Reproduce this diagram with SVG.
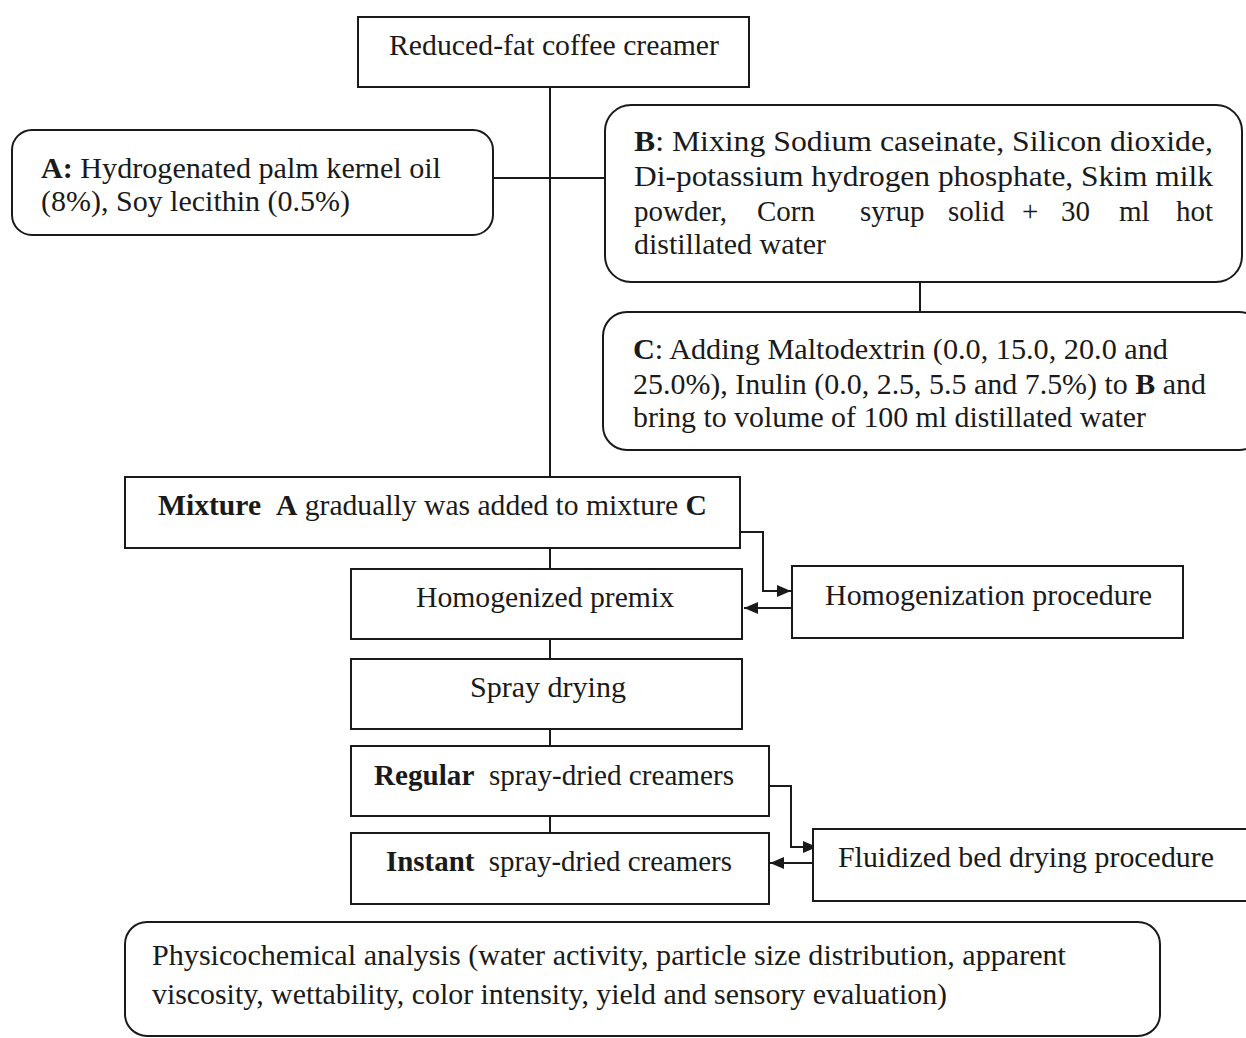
<svg xmlns="http://www.w3.org/2000/svg" width="1246" height="1038" viewBox="0 0 1246 1038">
<style>
.box{fill:#fff;stroke:#1a1a1a;stroke-width:2}
.t{font-family:"Liberation Serif","Times New Roman",serif;font-size:29px;fill:#1a1a1a}
.b{font-weight:bold}
.ln{fill:none;stroke:#1a1a1a;stroke-width:2}
</style>
<defs>
<marker id="ah" viewBox="0 0 14 12" refX="14" refY="6" markerWidth="14" markerHeight="12" markerUnits="userSpaceOnUse" orient="auto">
<path d="M0,0 L14,6 L0,12 Z" fill="#1a1a1a"/>
</marker>
</defs>
<rect width="1246" height="1038" fill="#fff"/>
<g id="connectors">
<line class="ln" x1="550" y1="87" x2="550" y2="477"/>
<line class="ln" x1="493" y1="178" x2="605" y2="178"/>
<line class="ln" x1="920" y1="282" x2="920" y2="312"/>
<line class="ln" x1="550" y1="548" x2="550" y2="569"/>
<line class="ln" x1="550" y1="639" x2="550" y2="659"/>
<line class="ln" x1="550" y1="729" x2="550" y2="746"/>
<line class="ln" x1="550" y1="816" x2="550" y2="833"/>
<polyline class="ln" points="735,532 763,532 763,591 791,591" marker-end="url(#ah)"/>
<line class="ln" x1="792" y1="608" x2="744" y2="608" marker-end="url(#ah)"/>
<polyline class="ln" points="762,786 791,786 791,847 817,847" marker-end="url(#ah)"/>
<line class="ln" x1="813" y1="863" x2="770" y2="863" marker-end="url(#ah)"/>
</g>
<g id="top">
<rect class="box" x="358" y="17" width="391" height="70"/>
<text class="t" x="389" y="55" textLength="330" lengthAdjust="spacingAndGlyphs">Reduced-fat coffee creamer</text>
</g>
<g id="nodeA">
<rect class="box" x="12" y="130" width="481" height="105" rx="20"/>
<text class="t" x="41" y="178" textLength="400" lengthAdjust="spacingAndGlyphs"><tspan class="b">A:</tspan> Hydrogenated palm kernel oil</text>
<text class="t" x="41" y="211" textLength="309" lengthAdjust="spacingAndGlyphs">(8%), Soy lecithin (0.5%)</text>
</g>
<g id="nodeB">
<rect class="box" x="605" y="105" width="637" height="177" rx="26"/>
<text class="t" x="634" y="151" textLength="579" lengthAdjust="spacingAndGlyphs"><tspan class="b">B</tspan>: Mixing Sodium caseinate, Silicon dioxide,</text>
<text class="t" x="634" y="186" textLength="579" lengthAdjust="spacingAndGlyphs">Di-potassium hydrogen phosphate, Skim milk</text>
<text class="t" y="221"><tspan x="634">powder,</tspan><tspan x="757">Corn</tspan><tspan x="860">syrup</tspan><tspan x="948">solid</tspan><tspan x="1022">+</tspan><tspan x="1061">30</tspan><tspan x="1119">ml</tspan><tspan x="1213" text-anchor="end">hot</tspan></text>
<text class="t" x="634" y="254" textLength="192" lengthAdjust="spacingAndGlyphs">distillated water</text>
</g>
<g id="nodeC">
<rect class="box" x="603" y="312" width="660" height="138" rx="24"/>
<text class="t" x="633" y="359" textLength="535" lengthAdjust="spacingAndGlyphs"><tspan class="b">C</tspan>: Adding Maltodextrin (0.0, 15.0, 20.0 and</text>
<text class="t" x="633" y="394" textLength="573" lengthAdjust="spacingAndGlyphs">25.0%), Inulin (0.0, 2.5, 5.5 and 7.5%) to <tspan class="b">B</tspan> and</text>
<text class="t" x="633" y="427" textLength="513" lengthAdjust="spacingAndGlyphs">bring to volume of 100 ml distillated water</text>
</g>
<g id="mixture">
<rect class="box" x="125" y="477" width="615" height="71"/>
<text class="t" x="158" y="515" textLength="549" lengthAdjust="spacingAndGlyphs" xml:space="preserve"><tspan class="b">Mixture</tspan>  <tspan class="b">A</tspan> gradually was added to mixture <tspan class="b">C</tspan></text>
</g>
<g id="premix">
<rect class="box" x="351" y="569" width="391" height="70"/>
<text class="t" x="416" y="607" textLength="258" lengthAdjust="spacingAndGlyphs">Homogenized premix</text>
</g>
<g id="homproc">
<rect class="box" x="792" y="566" width="391" height="72"/>
<text class="t" x="825" y="605" textLength="327" lengthAdjust="spacingAndGlyphs">Homogenization procedure</text>
</g>
<g id="spray">
<rect class="box" x="351" y="659" width="391" height="70"/>
<text class="t" x="470" y="697" textLength="156" lengthAdjust="spacingAndGlyphs">Spray drying</text>
</g>
<g id="regular">
<rect class="box" x="351" y="746" width="418" height="70"/>
<text class="t" x="374" y="785" textLength="360" lengthAdjust="spacingAndGlyphs" xml:space="preserve"><tspan class="b">Regular</tspan>  spray-dried creamers</text>
</g>
<g id="instant">
<rect class="box" x="351" y="833" width="418" height="71"/>
<text class="t" x="386" y="871" textLength="346" lengthAdjust="spacingAndGlyphs" xml:space="preserve"><tspan class="b">Instant</tspan>  spray-dried creamers</text>
</g>
<g id="fluid">
<rect class="box" x="813" y="829" width="445" height="72"/>
<text class="t" x="838" y="867" textLength="376" lengthAdjust="spacingAndGlyphs">Fluidized bed drying procedure</text>
</g>
<g id="analysis">
<rect class="box" x="125" y="922" width="1035" height="114" rx="22"/>
<text class="t" x="152" y="965" textLength="914" lengthAdjust="spacingAndGlyphs">Physicochemical analysis (water activity, particle size distribution, apparent</text>
<text class="t" x="152" y="1004" textLength="795" lengthAdjust="spacingAndGlyphs">viscosity, wettability, color intensity, yield and sensory evaluation)</text>
</g>
</svg>
